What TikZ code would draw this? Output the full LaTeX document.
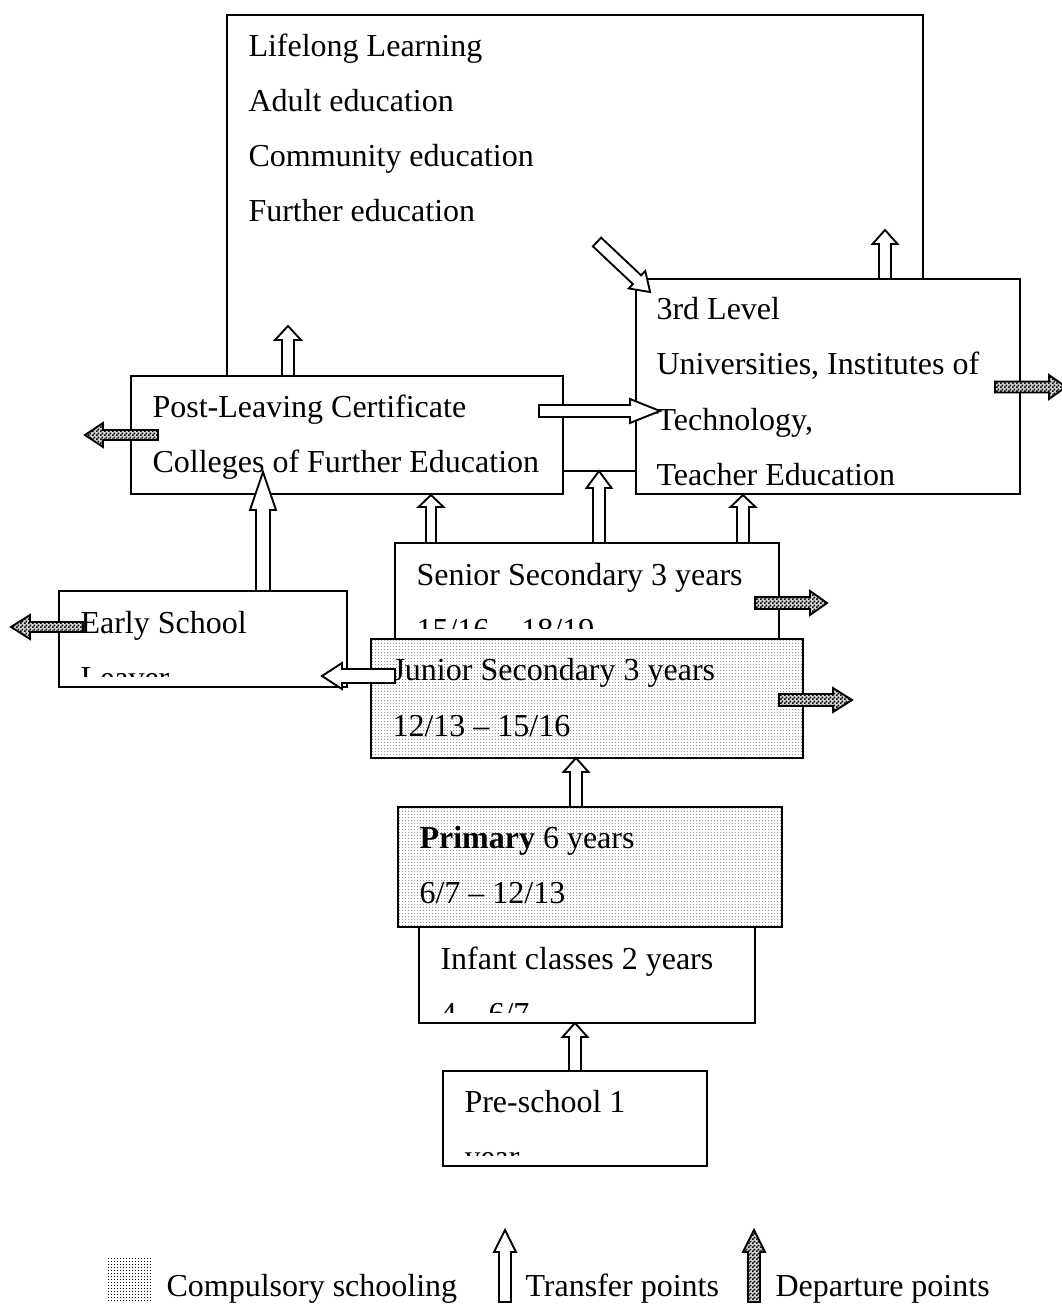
\documentclass[tikz,border=0pt]{standalone}
\usepackage{fontspec}
\setmainfont{Liberation Serif}
\usetikzlibrary{patterns}

% fine textures for the compulsory boxes and the departure arrows
\pgfdeclarepatternformonly{finedots}{\pgfqpoint{0pt}{0pt}}{\pgfqpoint{1.125pt}{1.125pt}}{\pgfqpoint{1.125pt}{1.125pt}}%
  {\pgfpathrectangle{\pgfqpoint{0pt}{0pt}}{\pgfqpoint{0.45pt}{0.45pt}}\pgfusepath{fill}}
\pgfdeclarepatternformonly{finechecker}{\pgfqpoint{0pt}{0pt}}{\pgfqpoint{1.5pt}{1.5pt}}{\pgfqpoint{1.5pt}{1.5pt}}%
  {\pgfpathrectangle{\pgfqpoint{0pt}{0pt}}{\pgfqpoint{0.75pt}{0.75pt}}%
   \pgfpathrectangle{\pgfqpoint{0.75pt}{0.75pt}}{\pgfqpoint{0.75pt}{0.75pt}}\pgfusepath{fill}}

\tikzset{
  box/.style={draw, fill=white, line width=0.75pt},
  compulsory/.style={draw, line width=0.75pt, preaction={fill=white}, pattern=finedots, pattern color=gray!85},
  boxtext/.style={anchor=base west, inner sep=0pt, font=\fontsize{12}{14}\selectfont},
  transfer/.style={draw, fill=white, line width=0.7pt},
  departure/.style={draw, line width=0.7pt, preaction={fill=gray!35}, pattern=finechecker, pattern color=black},
}

% block arrow: [style]{start}{angle}{length}{shaft}{head width}{head length}
\newcommand\blockarrow[7][transfer]{%
  \draw[#1, shift={(#2)}, rotate=#3]
    (0,{-#5/2}) -- ({#4-#7},{-#5/2}) -- ({#4-#7},{-#6/2}) -- (#4,0)
    -- ({#4-#7},{#6/2}) -- ({#4-#7},{#5/2}) -- (0,{#5/2}) -- cycle;}

\begin{document}
\begin{tikzpicture}[x=0.375pt, y=-0.375pt]
  \useasboundingbox (0,0) rectangle (1061,1304);

  % lifelong learning
  \draw[box] (227,15) rectangle (923,471);
  \node[boxtext] (lifelong) at (248,57) {Lifelong Learning};
  \node[boxtext] (adult) at (248,112) {Adult education};
  \node[boxtext] (community) at (248,167) {Community education};
  \node[boxtext] (further) at (248,222) {Further education};

  % post-leaving certificate, 3rd level
  \draw[box] (131,376) rectangle (563,494);
  \node[boxtext] (plc) at (152,417) {Post-Leaving Certificate};
  \node[boxtext] (colleges) at (152,472) {Colleges of Further Education};
  \draw[box] (636,279) rectangle (1020,494);
  \node[boxtext] (third) at (656,320) {3rd Level};
  \node[boxtext] (univ) at (656,375) {Universities, Institutes of};
  \node[boxtext] (tech) at (656,430) {Technology,};
  \node[boxtext] (teacher) at (656,485) {Teacher Education};

  \blockarrow{288,376}{90}{50}{12}{26}{14}
  \blockarrow{885,279}{90}{49}{12}{25}{14}
  \blockarrow{597,242}{-43.3}{73}{12}{24}{18}
  \blockarrow{539,411}{0}{121}{12}{24}{30}
  \blockarrow[departure]{158,435}{180}{73}{10}{24}{18}
  \blockarrow[departure]{995,387}{0}{71}{11}{24}{17}

  % senior secondary
  \draw[box] (395,543) rectangle (779,639);
  \begin{scope}
    \clip (395,543) rectangle (779,628);
    \node[boxtext] (senior) at (416,585) {Senior Secondary 3 years};
    \node[boxtext] (seniorage) at (416,640) {15/16 – 18/19};
  \end{scope}
  \blockarrow{431,543}{90}{48}{10}{25}{12}
  \blockarrow{599,543}{90}{72}{12}{25}{17}
  \blockarrow{743,543}{90}{48}{12}{25}{12}
  \blockarrow[departure]{755,603}{0}{72}{12}{24}{17}

  % early school leaver
  \draw[box] (59,591) rectangle (347,687);
  \begin{scope}
    \clip (59,591) rectangle (347,676);
    \node[boxtext] (early) at (80,633) {Early School};
    \node[boxtext] (leaver) at (80,688) {Leaver};
  \end{scope}
  \blockarrow{263,591}{90}{119}{14}{26}{38}
  \blockarrow[departure]{83,627}{180}{72}{10}{24}{19}

  % junior secondary
  \draw[compulsory] (371,639) rectangle (803,758);
  \node[boxtext] (junior) at (392,680) {Junior Secondary 3 years};
  \node[boxtext] (juniorage) at (392,736) {12/13 – 15/16};
  \blockarrow{395,676}{180}{73}{14}{26}{20}
  \blockarrow[departure]{779,700}{0}{73}{12}{24}{19}

  % primary
  \draw[compulsory] (398,807) rectangle (782,927);
  \node[boxtext] (primary) at (419,848) {\bfseries Primary\mdseries{} 6 years};
  \node[boxtext] (primaryage) at (419,903) {6/7 – 12/13};
  \blockarrow{576,807}{90}{49}{12}{25}{14}

  % infant classes
  \draw[box] (419,927) rectangle (755,1023);
  \begin{scope}
    \clip (419,927) rectangle (755,1012);
    \node[boxtext] (infant) at (440,969) {Infant classes 2 years};
    \node[boxtext] (infantage) at (440,1024) {4 – 6/7};
  \end{scope}

  % pre-school
  \draw[box] (443,1071) rectangle (707,1166);
  \begin{scope}
    \clip (443,1071) rectangle (707,1155);
    \node[boxtext] (preschool) at (464,1112) {Pre-school 1};
    \node[boxtext] (year) at (464,1167) {year};
  \end{scope}
  \blockarrow{575,1071}{90}{48}{12}{25}{14}

  % legend
  \fill[pattern=finedots, pattern color=black] (108,1258) rectangle (152,1302);
  \node[boxtext] (compulsory) at (166,1296) {Compulsory schooling};
  \blockarrow{505,1302}{90}{72}{12}{22}{22}
  \node[boxtext] (transfers) at (525,1296) {Transfer points};
  \blockarrow[departure]{754,1302}{90}{72}{12}{22}{22}
  \node[boxtext] (departures) at (775,1296) {Departure points};
\end{tikzpicture}
\end{document}
